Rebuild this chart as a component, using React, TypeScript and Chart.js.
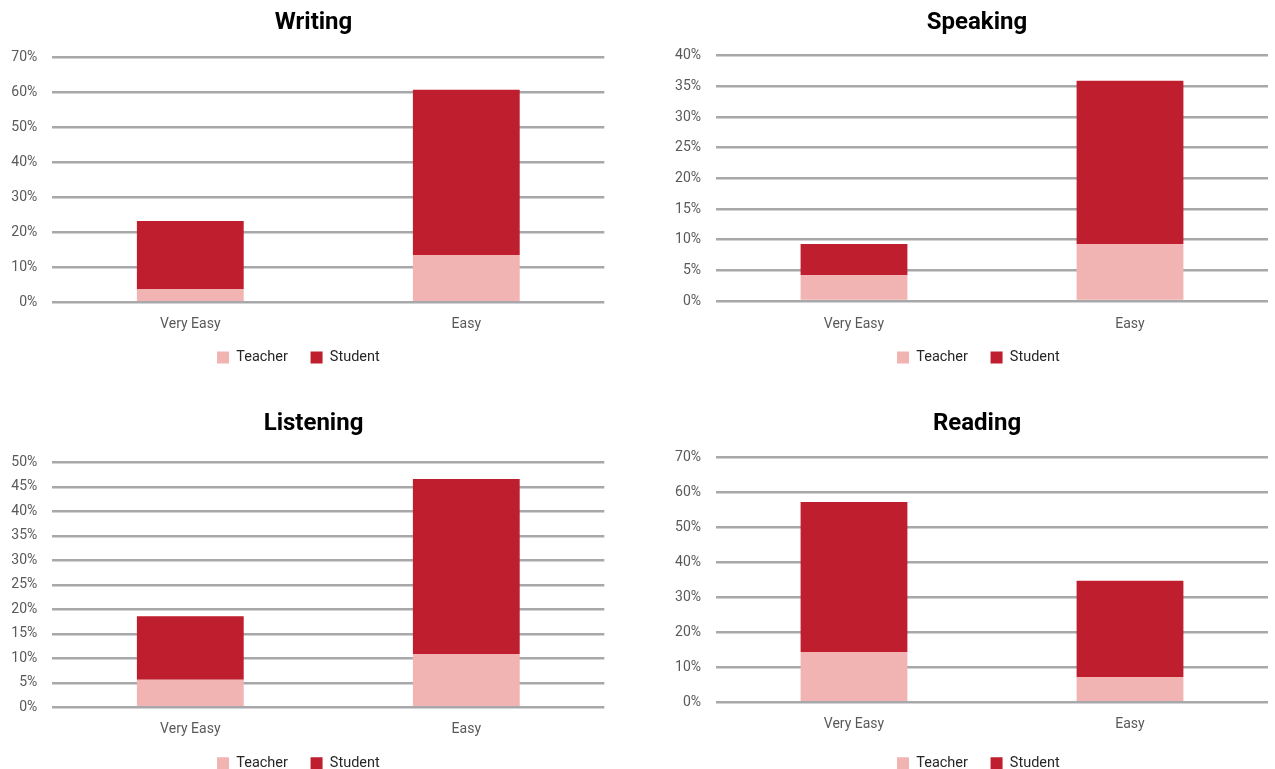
import React, { useEffect, useRef } from "react";
import { Chart, registerables } from "chart.js";

Chart.register(...registerables);

// ---- data ----
const categories = ["Very Easy", "Easy"];
const seriesNames = ["Teacher", "Student"];

const writingTeacher = [3.8, 13.5];
const writingStudent = [19.4, 47.2];

const speakingTeacher = [4.2, 9.3];
const speakingStudent = [5.1, 26.6];

const listeningTeacher = [5.6, 10.9];
const listeningStudent = [13.0, 35.7];

const readingTeacher = [14.4, 7.2];
const readingStudent = [42.8, 27.5];

const writingAxis = { max: 70, step: 10 };
const speakingAxis = { max: 40, step: 5 };
const listeningAxis = { max: 50, step: 5 };
const readingAxis = { max: 70, step: 10 };

// ---- style ----
const TEACHER_COLOR = "#F2B3B3";
const STUDENT_COLOR = "#BE1E2D";
const GRID_COLOR = "#A8A8AB";
const TICK_COLOR = "#595959";
const FONT = "Roboto, 'Noto Sans', sans-serif";
const LEGEND_PAD = 22.6;
const LEGEND_FONT = 14.5;

const placer = {
  id: "placer",
  afterLayout(chart: any, _args: any, opts: any) {
    if (!opts) return;
    const lg = chart.legend;
    if (lg && lg.lineWidths) {
      const p = lg.options.labels.padding;
      if (opts.legendX != null) {
        const start = (lg.left + p + lg.right - lg.lineWidths[0]) / 2;
        const d = opts.legendX - start;
        lg.left += d;
        lg.right += d;
      }
      if (opts.legendY != null) {
        const h = lg.height;
        lg.top = opts.legendY - p - LEGEND_FONT / 2;
        lg.bottom = lg.top + h;
      }
    }
    const tt = chart.titleBlock;
    if (tt && opts.titleX != null) {
      const c = (tt.left + tt.right) / 2;
      const d = opts.titleX - c;
      tt.left += d;
      tt.right += d;
    }
  },
};

type PanelProps = {
  title: string;
  teacher: number[];
  student: number[];
  axis: { max: number; step: number };
  left: number;
  top: number;
  width: number;
  height: number;
  padRight: number;
  padBottom: number;
  yWidth: number;
  titleTop: number;
  titleBottom: number;
  xHeight: number;
  xPad: number;
  legendX: number;
  legendY: number;
  titleX: number;
};

function Panel(props: PanelProps) {
  const ref = useRef<HTMLCanvasElement | null>(null);
  useEffect(() => {
    if (!ref.current) return;
    const chart = new Chart(ref.current, {
      type: "bar",
      data: {
        labels: categories,
        datasets: [
          {
            label: seriesNames[0],
            data: props.teacher,
            backgroundColor: TEACHER_COLOR,
            barPercentage: 0.387,
            categoryPercentage: 1,
          },
          {
            label: seriesNames[1],
            data: props.student,
            backgroundColor: STUDENT_COLOR,
            barPercentage: 0.387,
            categoryPercentage: 1,
          },
        ],
      },
      plugins: [placer],
      options: {
        responsive: false,
        animation: false,
        devicePixelRatio: 1,
        layout: {
          padding: { left: 0, right: props.padRight, top: 0, bottom: props.padBottom },
        },
        plugins: {
          title: {
            display: true,
            text: props.title,
            color: "#000000",
            font: { family: FONT, size: 24, weight: "bold" },
            padding: { top: props.titleTop, bottom: props.titleBottom },
          },
          legend: {
            display: true,
            position: "bottom",
            labels: {
              color: "#262626",
              font: { family: FONT, size: LEGEND_FONT },
              boxWidth: 12,
              boxHeight: 12,
              padding: LEGEND_PAD,
            },
          },
          tooltip: { enabled: false },
          placer: { legendX: props.legendX, legendY: props.legendY, titleX: props.titleX },
        } as any,
        scales: {
          x: {
            stacked: true,
            grid: { display: false, drawTicks: false },
            border: { display: false },
            ticks: {
              color: TICK_COLOR,
              font: { family: FONT, size: 14 },
              padding: props.xPad,
            },
            afterFit: (scale: any) => {
              scale.height = props.xHeight;
            },
          },
          y: {
            stacked: true,
            min: 0,
            max: props.axis.max,
            grid: { color: GRID_COLOR, lineWidth: 2.5, drawTicks: false },
            border: { display: false },
            ticks: {
              stepSize: props.axis.step,
              color: TICK_COLOR,
              font: { family: FONT, size: 14 },
              padding: 15,
              callback: (v: any) => v + "%",
            },
            afterFit: (scale: any) => {
              scale.width = props.yWidth;
            },
          },
        },
      },
    });
    return () => chart.destroy();
  }, []);
  return (
    <canvas
      ref={ref}
      width={props.width}
      height={props.height}
      style={{
        position: "absolute",
        left: props.left,
        top: props.top,
        width: props.width,
        height: props.height,
      }}
    />
  );
}

export default function App() {
  return (
    <div
      style={{
        position: "fixed",
        left: 0,
        top: 0,
        width: 1275,
        height: 769,
        overflow: "hidden",
        background: "#ffffff",
      }}
    >
      <Panel
        title="Writing"
        teacher={writingTeacher}
        student={writingStudent}
        axis={writingAxis}
        left={0}
        top={0}
        width={620}
        height={385}
        padRight={15.7}
        padBottom={1.2}
        yWidth={52.3}
        titleTop={9}
        titleBottom={19.5}
        xHeight={34.4}
        xPad={13.6}
        legendX={217}
        legendY={357.5}
        titleX={313.5}
      />
      <Panel
        title="Speaking"
        teacher={speakingTeacher}
        student={speakingStudent}
        axis={speakingAxis}
        left={640}
        top={0}
        width={635}
        height={385}
        padRight={7}
        padBottom={1.2}
        yWidth={76}
        titleTop={9}
        titleBottom={17.9}
        xHeight={35.7}
        xPad={14.9}
        legendX={257}
        legendY={357.5}
        titleX={337}
      />
      <Panel
        title="Listening"
        teacher={listeningTeacher}
        student={listeningStudent}
        axis={listeningAxis}
        left={0}
        top={400}
        width={620}
        height={390}
        padRight={15.7}
        padBottom={1.2}
        yWidth={52.3}
        titleTop={10}
        titleBottom={23.5}
        xHeight={34.4}
        xPad={13.6}
        legendX={217}
        legendY={363.2}
        titleX={313.5}
      />
      <Panel
        title="Reading"
        teacher={readingTeacher}
        student={readingStudent}
        axis={readingAxis}
        left={640}
        top={400}
        width={635}
        height={390}
        padRight={7}
        padBottom={6.2}
        yWidth={76}
        titleTop={10}
        titleBottom={18.5}
        xHeight={34.4}
        xPad={13.6}
        legendX={257}
        legendY={363.2}
        titleX={337}
      />
    </div>
  );
}
